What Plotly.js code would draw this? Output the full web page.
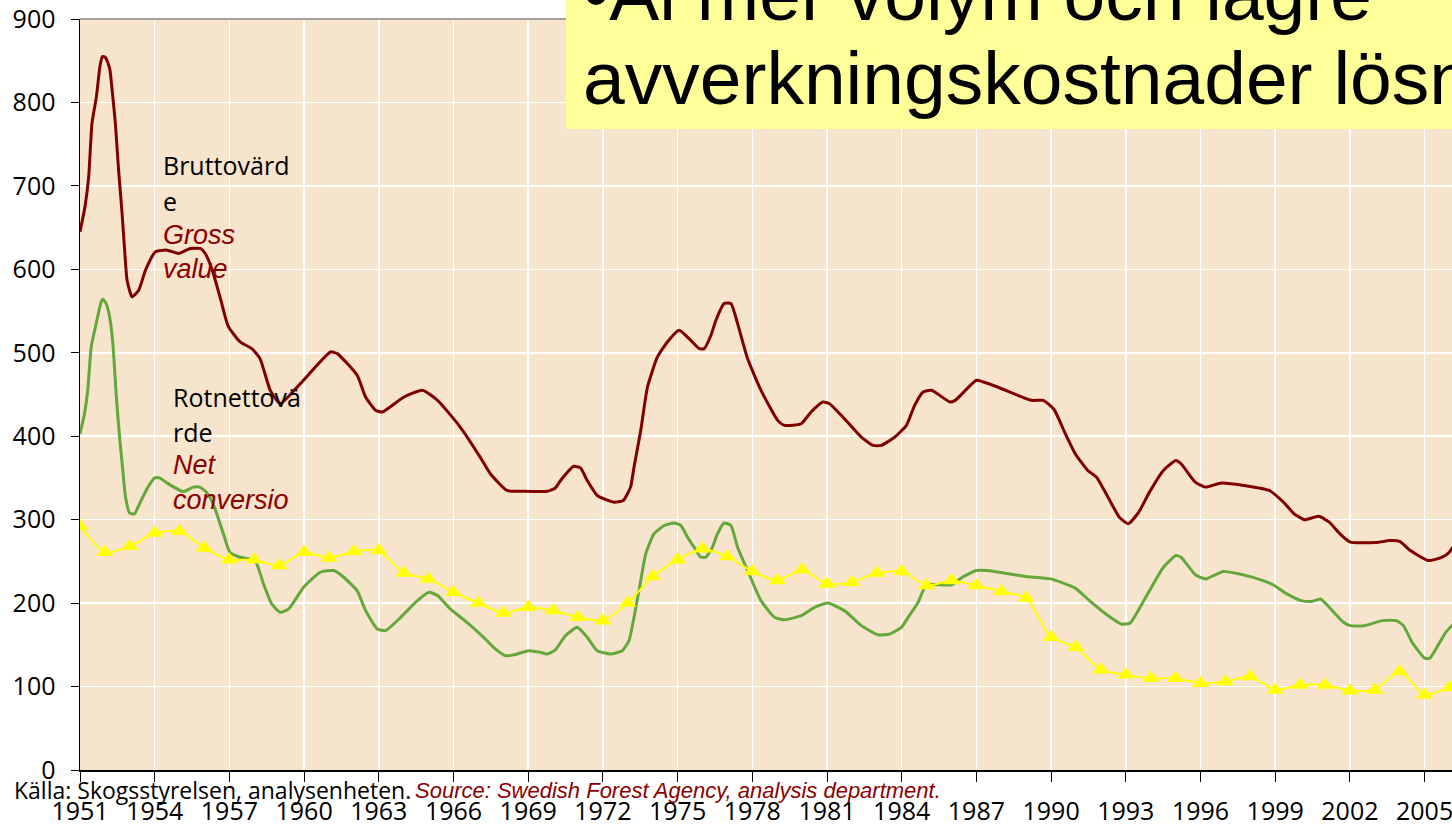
<!DOCTYPE html>
<html>
<head>
<meta charset="utf-8">
<script src="https://cdn.plot.ly/plotly-3.0.1.min.js"></script>
<style>html,body{margin:0;padding:0;background:#fff;}#chart{width:1452px;height:827px;}</style>
</head>
<body>
<div id="chart"></div>
<script>
// ---- Data ----
const grossYears = [1951.0,1951.2,1951.35,1951.48,1951.66,1951.8,1951.9,1952.02,1952.19,1952.29,1952.42,1952.55,1952.69,1952.82,1952.89,1953.09,1953.36,1953.63,1954.03,1954.5,1954.96,1955.43,1955.83,1956.03,1956.3,1956.64,1956.95,1957.43,1957.9,1958.23,1958.64,1959.04,1959.85,1961.06,1961.33,1962.13,1962.47,1962.87,1963.14,1964.01,1964.75,1965.36,1966.27,1967.07,1967.48,1968.15,1968.82,1969.76,1970.09,1970.3,1970.83,1971.1,1971.37,1971.77,1972.44,1972.82,1973.11,1973.25,1973.52,1973.79,1974.19,1974.59,1975.06,1975.46,1975.87,1976.07,1976.34,1976.54,1976.87,1977.14,1977.41,1977.81,1978.35,1979.02,1979.29,1979.96,1980.36,1980.83,1981.1,1981.7,1982.38,1982.85,1983.18,1983.72,1984.19,1984.52,1984.86,1985.2,1985.94,1986.15,1987.0,1987.28,1987.85,1989.2,1989.69,1990.12,1990.54,1990.97,1991.47,1991.82,1992.1,1992.32,1992.74,1993.1,1993.52,1993.95,1994.51,1995.01,1995.22,1995.79,1996.21,1996.85,1998.76,1999.33,1999.76,2000.18,2000.75,2001.17,2001.6,2002.02,2003.16,2003.58,2004.0,2004.43,2005.14,2005.71,2005.99,2006.25];
const grossValues = [645,675,711,775,807,843,855,854,841,815,775,719,667,611,587,567,575,599,621,623,619,625,625,619,600,565,532,513,505,493,455,439,463,501,499,473,447,431,429,447,455,443,411,375,355,335,334,334,338,347,364,362,347,329,321,323,339,363,407,459,495,513,527,517,505,505,521,539,559,559,535,493,455,419,413,415,429,441,439,421,399,389,389,399,413,437,453,455,441,443,467,465,459,443,443,432,405,379,359,351,337,325,303,295,309,333,359,371,367,345,339,344,335,321,307,300,304,297,283,273,273,275,274,263,251,255,261,273];

const netYears = [1951.0,1951.18,1951.31,1951.45,1951.65,1951.85,1951.92,1952.05,1952.19,1952.32,1952.46,1952.59,1952.72,1952.83,1952.99,1953.19,1953.39,1953.73,1954.0,1954.2,1954.6,1955.1,1955.21,1955.55,1955.81,1956.08,1956.35,1956.76,1957.02,1957.43,1958.03,1958.37,1958.7,1959.04,1959.38,1959.98,1960.65,1961.19,1961.59,1962.13,1962.47,1962.94,1963.27,1963.88,1964.55,1965.02,1965.36,1965.87,1966.54,1967.21,1967.61,1968.08,1968.42,1969.02,1969.49,1969.76,1970.09,1970.5,1970.97,1971.37,1971.77,1972.31,1972.78,1973.05,1973.25,1973.45,1973.72,1974.05,1974.46,1974.86,1975.13,1975.4,1975.66,1975.93,1976.13,1976.4,1976.6,1976.87,1977.14,1977.41,1977.81,1978.35,1978.89,1979.29,1979.96,1980.5,1981.03,1981.7,1982.38,1983.05,1983.52,1983.99,1984.26,1984.66,1984.99,1985.44,1986.01,1986.43,1987.0,1987.43,1988.98,1989.98,1990.97,1991.54,1992.24,1992.81,1993.17,1993.8,1994.51,1995.01,1995.22,1995.79,1996.21,1996.92,1998.2,1998.91,1999.47,2000.04,2000.47,2000.82,2001.17,2001.74,2002.02,2002.59,2003.3,2003.87,2004.15,2004.5,2005.0,2005.21,2005.85,2006.25];
const netValues = [403,427,455,507,535,561,564,559,543,511,447,399,359,327,308,307,319,339,350,350,342,334,334,339,339,333,319,283,261,255,251,223,199,189,193,219,237,239,231,215,191,169,167,183,203,213,209,193,177,159,147,137,138,143,141,139,144,161,171,159,143,139,143,155,183,215,259,283,293,296,293,279,267,255,255,267,283,296,293,267,239,203,183,180,185,195,200,191,173,162,163,171,183,201,222,222,222,231,239,239,232,229,218,203,186,175,176,207,243,257,255,234,229,238,230,222,211,203,202,205,195,177,173,173,179,179,173,153,134,134,165,178];

const costYears = [1951,1952,1953,1954,1955,1956,1957,1958,1959,1960,1961,1962,1963,1964,1965,1966,1967,1968,1969,1970,1971,1972,1973,1974,1975,1976,1977,1978,1979,1980,1981,1982,1983,1984,1985,1986,1987,1988,1989,1990,1991,1992,1993,1994,1995,1996,1997,1998,1999,2000,2001,2002,2003,2004,2005,2006];
const costValues = [292,261,268,284,286,266,252,252,245,261,254,262,263,236,229,213,200,188,195,191,183,179,200,232,252,265,256,238,227,240,223,225,236,238,221,227,221,214,206,159,147,120,114,110,110,104,106,112,96,102,102,95,96,118,90,99];

const xTickVals = [1951,1954,1957,1960,1963,1966,1969,1972,1975,1978,1981,1984,1987,1990,1993,1996,1999,2002,2005];
const xTickText = ["1951","1954","1957","1960","1963","1966","1969","1972","1975","1978","1981","1984","1987","1990","1993","1996","1999","2002","2005"];
const yTickVals = [0,100,200,300,400,500,600,700,800,900];

// ---- Layout helpers (pixel -> paper) ----
const L = 80, R = 1452, T = 19, B = 770;
const px = v => (v - L) / (R - L);
const py = v => (B - v) / (B - T);

const traces = [
  {x: grossYears, y: grossValues, type: 'scatter', mode: 'lines',
   line: {color: '#800000', width: 3, shape: 'spline', smoothing: 0.5}},
  {x: netYears, y: netValues, type: 'scatter', mode: 'lines',
   line: {color: '#64A83C', width: 3, shape: 'spline', smoothing: 0.5}},
  {x: costYears, y: costValues, type: 'scatter', mode: 'lines+markers',
   line: {color: '#FFFF00', width: 2, shape: 'spline', smoothing: 0.6},
   marker: {symbol: 'triangle-up', size: 15, color: '#FFFF00'}}
];

const blk = {family: 'Open Sans, sans-serif', size: 25, color: '#000'};
const red = {family: 'Liberation Sans, Arial, sans-serif', size: 27, color: '#8B0000'};
function ann(text, x, y, font, extra) {
  return Object.assign({text: text, xref: 'paper', yref: 'paper', x: px(x), y: py(y),
    xanchor: 'left', yanchor: 'middle', showarrow: false, font: font, align: 'left'}, extra || {});
}

const layout = {
  width: 1452, height: 827,
  margin: {l: L, r: 1452 - R, t: T, b: 827 - B, pad: 0},
  paper_bgcolor: '#FFFFFF',
  plot_bgcolor: '#F7E4CD',
  showlegend: false,
  xaxis: {
    range: [1951, 1951 + (R - L) / 24.9],
    tickvals: xTickVals, ticktext: xTickText,
    ticks: 'outside', ticklen: 10, tickcolor: '#000', tickwidth: 1,
    showline: true, linecolor: '#000', linewidth: 1.5,
    showgrid: true, gridcolor: '#FFFFFF', gridwidth: 1.5, zeroline: false,
    tickfont: {family: 'Open Sans, sans-serif', size: 25, color: '#000'},
    ticklabelstandoff: 8, ticklabeloverflow: 'allow'
  },
  yaxis: {
    range: [0, 900], tickvals: yTickVals,
    ticks: 'outside', ticklen: 8, tickcolor: '#000', tickwidth: 1,
    showline: true, linecolor: '#000', linewidth: 1.5,
    showgrid: true, gridcolor: '#FFFFFF', gridwidth: 1.5, zeroline: false,
    tickfont: {family: 'Open Sans, sans-serif', size: 25, color: '#000'},
    ticklabelstandoff: 10
  },
  shapes: [
    {type: 'line', xref: 'paper', yref: 'paper', x0: 0, x1: 1, y0: 1, y1: 1,
     line: {color: '#A8A0A0', width: 2}, layer: 'above'},
    {type: 'rect', xref: 'paper', yref: 'paper', x0: px(566), x1: 1.05, y0: py(129), y1: 1.1,
     fillcolor: '#FFFF99', line: {width: 0}, layer: 'above'}
  ],
  annotations: [
    ann('Bruttovärd', 161, 165, blk),
    ann('e', 161, 201, blk),
    ann('<i>Gross</i>', 161, 235, red),
    ann('<i>value</i>', 161, 269, red),
    ann('Rotnettovä', 171, 397, blk),
    ann('rde', 171, 432, blk),
    ann('<i>Net</i>', 171, 465, red),
    ann('<i>conversio</i>', 171, 500, red),
    ann('Källa: Skogsstyrelsen, analysenheten.', 12, 790,
        {family: 'Open Sans, sans-serif', size: 23, color: '#000'}),
    ann('<i>Source: Swedish Forest Agency, analysis department.</i>', 413, 790,
        {family: 'Liberation Sans, Arial, sans-serif', size: 22, color: '#8B0000'}),
    ann('•Al mer volym och lägre', 581, -6,
        {family: 'Liberation Sans, Arial, sans-serif', size: 75, color: '#000'}),
    ann('avverkningskostnader lösningen', 581, 78,
        {family: 'Liberation Sans, Arial, sans-serif', size: 75, color: '#000'})
  ]
};

Plotly.newPlot('chart', traces, layout, {displayModeBar: false, staticPlot: true});
</script>
</body>
</html>
